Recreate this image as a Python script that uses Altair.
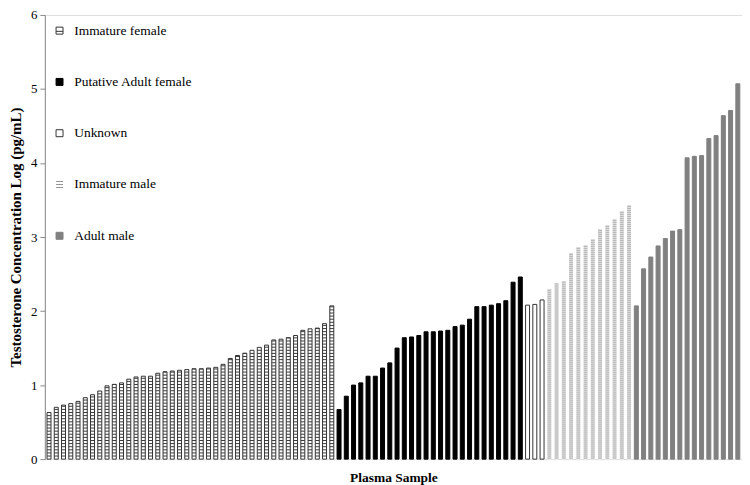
import altair as alt
import pandas as pd

groups = ["Immature female", "Putative Adult female", "Unknown", "Immature male", "Adult male"]

immature_female = [0.63, 0.70, 0.73, 0.75, 0.78, 0.83, 0.87, 0.92, 0.99, 1.01, 1.03, 1.08, 1.11, 1.12, 1.12,
                   1.16, 1.18, 1.19, 1.20, 1.21, 1.22, 1.22, 1.23, 1.24, 1.28, 1.36, 1.40, 1.43, 1.47, 1.51,
                   1.54, 1.61, 1.62, 1.64, 1.67, 1.74, 1.76, 1.77, 1.83, 2.07]
putative_adult_female = [0.67, 0.85, 1.00, 1.03, 1.12, 1.12, 1.23, 1.30, 1.50, 1.64, 1.65, 1.67, 1.72, 1.72,
                         1.73, 1.74, 1.79, 1.81, 1.89, 2.06, 2.06, 2.08, 2.10, 2.14, 2.39, 2.46]
unknown = [2.08, 2.09, 2.15]
immature_male = [2.30, 2.37, 2.41, 2.78, 2.86, 2.90, 2.97, 3.11, 3.17, 3.23, 3.34, 3.44]
adult_male = [2.07, 2.57, 2.73, 2.88, 2.98, 3.08, 3.10, 4.07, 4.09, 4.10, 4.33, 4.37, 4.64, 4.71, 5.07]

series = [immature_female, putative_adult_female, unknown, immature_male, adult_male]

fills = ["#ffffff", "#000000", "#ffffff", "#ffffff", "#808080"]
strokes = ["#333333", "#000000", "#333333", "#959595", "#808080"]
shapes = ["M-1,-1H1V1H-1ZM-1,0.2H1", "square", "square",
          "M-1,-0.86H1M-1,0H1M-1,0.86H1", "square"]

rows = []
i = 0
for g, vals in zip(groups, series):
    for v in vals:
        rows.append({"idx": i, "group": g, "value": v})
        i += 1
df = pd.DataFrame(rows)

FONT = "Liberation Serif"

x_enc = alt.X("idx:O", scale=alt.Scale(paddingInner=0.45, paddingOuter=0.3),
              axis=alt.Axis(labels=False, ticks=False, domain=False, title="Plasma Sample",
                            titleFont=FONT, titleFontSize=13.5, titleFontWeight="bold",
                            titleColor="black", titlePadding=11))
y_enc = alt.Y("value:Q", scale=alt.Scale(domain=[0, 6], nice=False),
              axis=alt.Axis(values=[0, 1, 2, 3, 4, 5, 6], format="d", grid=False,
                            title="Testosterone Concentration  Log (pg/mL)",
                            titleFont=FONT, titleFontSize=15, titleFontWeight="bold",
                            titleColor="black", titlePadding=7,
                            labelFont=FONT, labelFontSize=13, labelColor="black",
                            labelPadding=3, tickSize=5, tickColor="#8a8a8a",
                            domainColor="#8a8a8a"))

fill_scale = alt.Scale(domain=groups, range=fills)
stroke_scale = alt.Scale(domain=groups, range=strokes)
shape_scale = alt.Scale(domain=groups, range=shapes)

base = alt.Chart(df)

legend = alt.Legend(title=None, orient="none", legendX=8, legendY=9, padding=0,
                    labelFont=FONT, labelFontSize=13.5, labelColor="black", labelOffset=8,
                    rowPadding=36.5, symbolSize=49, symbolStrokeWidth=1, symbolOpacity=1)

keys = base.mark_point(opacity=0).encode(
    fill=alt.Fill("group:N", scale=fill_scale, legend=legend),
    stroke=alt.Stroke("group:N", scale=stroke_scale, legend=legend),
    shape=alt.Shape("group:N", scale=shape_scale, legend=legend),
)

bars = base.mark_bar(strokeWidth=1).encode(
    x=x_enc,
    y=y_enc,
    fill=alt.Fill("group:N", scale=fill_scale, legend=legend),
    stroke=alt.Stroke("group:N", scale=stroke_scale, legend=legend),
    strokeOpacity=alt.condition("datum.group == 'Immature male'", alt.value(0), alt.value(1)),
)

rungs_f = base.transform_filter("datum.group == 'Immature female'").transform_calculate(
    r="sequence(0.042, datum.value, 0.042)"
).transform_flatten(["r"]).mark_tick(thickness=1, size=4, color="#3a3a3a", opacity=1).encode(
    x="idx:O", y=alt.Y("r:Q")
)

rungs_m = base.transform_filter("datum.group == 'Immature male'").transform_calculate(
    r="sequence(0.015, datum.value, 0.027)"
).transform_flatten(["r"]).mark_tick(thickness=1, size=4, color="#959595", opacity=1).encode(
    x="idx:O", y=alt.Y("r:Q")
)

chart = alt.layer(keys, bars, rungs_f, rungs_m).properties(
    width=700, height=446,
    padding={"left": 0, "top": 0, "right": 0, "bottom": 0},
).configure_view(stroke=None).configure(background="white")

chart.save("out.html", embed_options={"renderer": "svg", "actions": False})
